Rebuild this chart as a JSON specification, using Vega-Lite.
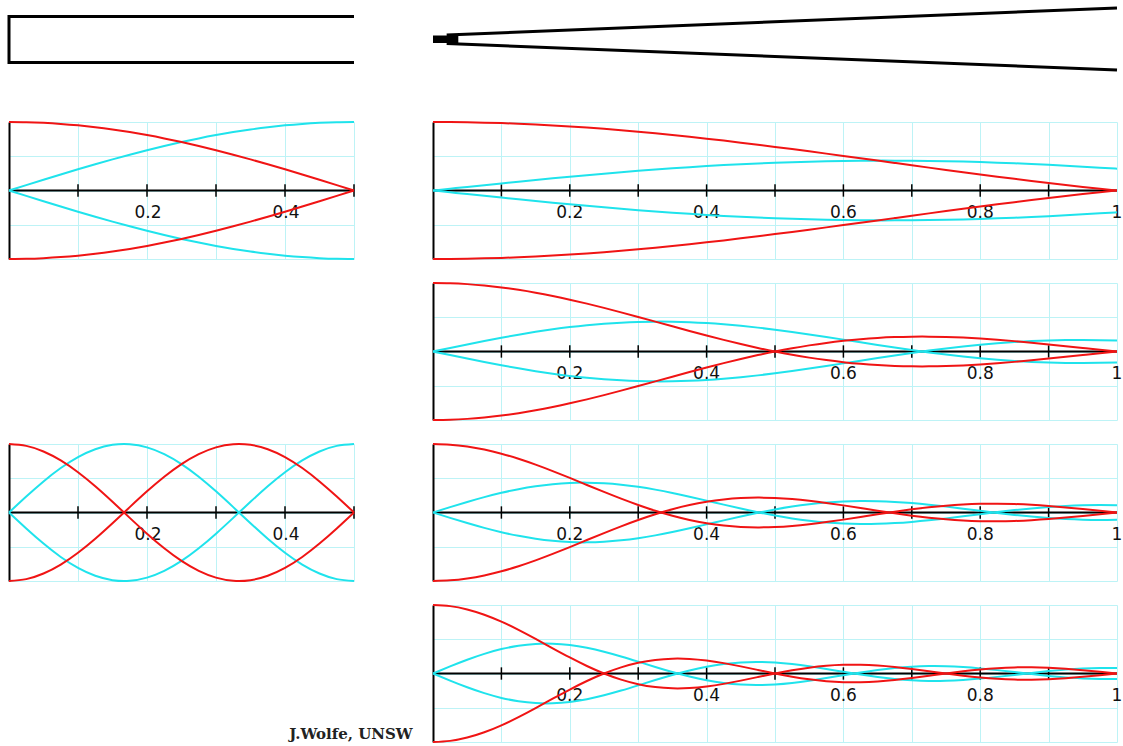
{
"$schema": "https://vega.github.io/schema/vega-lite/v6.json",
"background": "white",
"padding": {"left": 3, "top": 0, "right": 0, "bottom": 0},
"bounds": "flush",
"columns": 2,
"spacing": {"row": 24, "column": 79},
"config": {"view": {"stroke": null}, "line": {"strokeWidth": 2, "interpolate": "natural"}},
"datasets": {
"cyl": [
{"x":0,"p1":1,"u1":0,"p3":1,"u3":0},
{"x":0.025,"p1":0.99692,"u1":0.07846,"p3":0.97237,"u3":0.23345},
{"x":0.05,"p1":0.98769,"u1":0.15643,"p3":0.89101,"u3":0.45399},
{"x":0.075,"p1":0.97237,"u1":0.23345,"p3":0.76041,"u3":0.64945},
{"x":0.1,"p1":0.95106,"u1":0.30902,"p3":0.58779,"u3":0.80902},
{"x":0.125,"p1":0.92388,"u1":0.38268,"p3":0.38268,"u3":0.92388},
{"x":0.15,"p1":0.89101,"u1":0.45399,"p3":0.15643,"u3":0.98769},
{"x":0.175,"p1":0.85264,"u1":0.5225,"p3":-0.07846,"u3":0.99692},
{"x":0.2,"p1":0.80902,"u1":0.58779,"p3":-0.30902,"u3":0.95106},
{"x":0.225,"p1":0.76041,"u1":0.64945,"p3":-0.5225,"u3":0.85264},
{"x":0.25,"p1":0.70711,"u1":0.70711,"p3":-0.70711,"u3":0.70711},
{"x":0.275,"p1":0.64945,"u1":0.76041,"p3":-0.85264,"u3":0.5225},
{"x":0.3,"p1":0.58779,"u1":0.80902,"p3":-0.95106,"u3":0.30902},
{"x":0.325,"p1":0.5225,"u1":0.85264,"p3":-0.99692,"u3":0.07846},
{"x":0.35,"p1":0.45399,"u1":0.89101,"p3":-0.98769,"u3":-0.15643},
{"x":0.375,"p1":0.38268,"u1":0.92388,"p3":-0.92388,"u3":-0.38268},
{"x":0.4,"p1":0.30902,"u1":0.95106,"p3":-0.80902,"u3":-0.58779},
{"x":0.425,"p1":0.23345,"u1":0.97237,"p3":-0.64945,"u3":-0.76041},
{"x":0.45,"p1":0.15643,"u1":0.98769,"p3":-0.45399,"u3":-0.89101},
{"x":0.475,"p1":0.07846,"u1":0.99692,"p3":-0.23345,"u3":-0.97237},
{"x":0.5,"p1":0,"u1":1,"p3":0,"u3":-1}
],
"cone": [
{"x":0,"p1":1,"u1":0,"p2":1,"u2":0,"p3":1,"u3":0,"p4":1,"u4":0},
{"x":0.025,"p1":0.999,"u1":0.0261,"p2":0.9959,"u2":0.0522,"p3":0.9908,"u3":0.0781,"p4":0.9836,"u4":0.1037},
{"x":0.05,"p1":0.9959,"u1":0.0522,"p2":0.9836,"u2":0.1037,"p3":0.9634,"u3":0.1536,"p4":0.9355,"u4":0.2013},
{"x":0.075,"p1":0.9908,"u1":0.0781,"p2":0.9634,"u2":0.1536,"p3":0.9188,"u3":0.2241,"p4":0.8584,"u4":0.2871},
{"x":0.1,"p1":0.9836,"u1":0.1037,"p2":0.9355,"u2":0.2013,"p3":0.8584,"u3":0.2871,"p4":0.7568,"u4":0.3564},
{"x":0.125,"p1":0.9745,"u1":0.1289,"p2":0.9003,"u2":0.246,"p3":0.7842,"u3":0.3408,"p4":0.6366,"u4":0.4053},
{"x":0.15,"p1":0.9634,"u1":0.1536,"p2":0.8584,"u2":0.2871,"p3":0.6987,"u3":0.3835,"p4":0.5046,"u4":0.4316},
{"x":0.175,"p1":0.9504,"u1":0.1778,"p2":0.8103,"u2":0.3241,"p3":0.6044,"u3":0.414,"p4":0.3679,"u4":0.4346},
{"x":0.2,"p1":0.9355,"u1":0.2013,"p2":0.7568,"u2":0.3564,"p3":0.5046,"u3":0.4316,"p4":0.2339,"u4":0.415},
{"x":0.225,"p1":0.9188,"u1":0.2241,"p2":0.6987,"u2":0.3835,"p3":0.4021,"u3":0.436,"p4":0.1093,"u4":0.375},
{"x":0.25,"p1":0.9003,"u1":0.246,"p2":0.6366,"u2":0.4053,"p3":0.3001,"u3":0.4275,"p4":0,"u4":0.3183},
{"x":0.275,"p1":0.8802,"u1":0.267,"p2":0.5716,"u2":0.4214,"p3":0.2016,"u3":0.4068,"p4":-0.0894,"u4":0.2493},
{"x":0.3,"p1":0.8584,"u1":0.2871,"p2":0.5046,"u2":0.4316,"p3":0.1093,"u3":0.375,"p4":-0.1559,"u4":0.1732},
{"x":0.325,"p1":0.8351,"u1":0.3062,"p2":0.4363,"u2":0.436,"p3":0.0256,"u3":0.3338,"p4":-0.1981,"u4":0.0954},
{"x":0.35,"p1":0.8103,"u1":0.3241,"p2":0.3679,"u2":0.4346,"p3":-0.0474,"u3":0.2851,"p4":-0.2162,"u4":0.0211},
{"x":0.375,"p1":0.7842,"u1":0.3408,"p2":0.3001,"u2":0.4275,"p3":-0.1083,"u3":0.2308,"p4":-0.2122,"u4":-0.045},
{"x":0.4,"p1":0.7568,"u1":0.3564,"p2":0.2339,"u2":0.415,"p3":-0.1559,"u3":0.1732,"p4":-0.1892,"u4":-0.0991},
{"x":0.425,"p1":0.7283,"u1":0.3706,"p2":0.17,"u2":0.3973,"p3":-0.1898,"u3":0.1147,"p4":-0.1515,"u4":-0.1384},
{"x":0.45,"p1":0.6987,"u1":0.3835,"p2":0.1093,"u2":0.375,"p3":-0.2101,"u3":0.0575,"p4":-0.1039,"u4":-0.1615},
{"x":0.475,"p1":0.6681,"u1":0.3951,"p2":0.0524,"u2":0.3485,"p3":-0.2172,"u3":0.0036,"p4":-0.0518,"u4":-0.168},
{"x":0.5,"p1":0.6366,"u1":0.4053,"p2":0,"u2":0.3183,"p3":-0.2122,"u3":-0.045,"p4":0,"u4":-0.1592},
{"x":0.525,"p1":0.6044,"u1":0.414,"p2":-0.0474,"u2":0.2851,"p3":-0.1965,"u3":-0.0869,"p4":0.0468,"u4":-0.1371},
{"x":0.55,"p1":0.5716,"u1":0.4214,"p2":-0.0894,"u2":0.2493,"p3":-0.1719,"u3":-0.1207,"p4":0.0851,"u4":-0.1048},
{"x":0.575,"p1":0.5383,"u1":0.4272,"p2":-0.1257,"u2":0.2118,"p3":-0.1403,"u3":-0.1457,"p4":0.112,"u4":-0.0659},
{"x":0.6,"p1":0.5046,"u1":0.4316,"p2":-0.1559,"u2":0.1732,"p3":-0.1039,"u3":-0.1615,"p4":0.1261,"u4":-0.0243},
{"x":0.625,"p1":0.4705,"u1":0.4345,"p2":-0.1801,"u2":0.1342,"p3":-0.065,"u3":-0.1679,"p4":0.1273,"u4":0.0162},
{"x":0.65,"p1":0.4363,"u1":0.436,"p2":-0.1981,"u2":0.0954,"p3":-0.0255,"u3":-0.1654,"p4":0.1164,"u4":0.0521},
{"x":0.675,"p1":0.4021,"u1":0.436,"p2":-0.2101,"u2":0.0575,"p3":0.0123,"u3":-0.1548,"p4":0.0954,"u4":0.0805},
{"x":0.7,"p1":0.3679,"u1":0.4346,"p2":-0.2162,"u2":0.0211,"p3":0.0468,"u3":-0.1371,"p4":0.0668,"u4":0.0996},
{"x":0.725,"p1":0.3339,"u1":0.4317,"p2":-0.2168,"u2":-0.0133,"p3":0.0765,"u3":-0.1136,"p4":0.0339,"u4":0.1081},
{"x":0.75,"p1":0.3001,"u1":0.4275,"p2":-0.2122,"u2":-0.045,"p3":0.1,"u3":-0.0859,"p4":0,"u4":0.1061},
{"x":0.775,"p1":0.2667,"u1":0.4219,"p2":-0.2028,"u2":-0.0738,"p3":0.1167,"u3":-0.0556,"p4":-0.0317,"u4":0.0944},
{"x":0.8,"p1":0.2339,"u1":0.415,"p2":-0.1892,"u2":-0.0991,"p3":0.1261,"u3":-0.0243,"p4":-0.0585,"u4":0.0747},
{"x":0.825,"p1":0.2016,"u1":0.4068,"p2":-0.1719,"u2":-0.1207,"p3":0.1282,"u3":0.0064,"p4":-0.078,"u4":0.0492},
{"x":0.85,"p1":0.17,"u1":0.3973,"p2":-0.1515,"u2":-0.1384,"p3":0.1233,"u3":0.0349,"p4":-0.089,"u4":0.0206},
{"x":0.875,"p1":0.1392,"u1":0.3867,"p2":-0.1286,"u2":-0.152,"p3":0.112,"u3":0.06,"p4":-0.091,"u4":-0.0083},
{"x":0.9,"p1":0.1093,"u1":0.375,"p2":-0.1039,"u2":-0.1615,"p3":0.0954,"u3":0.0805,"p4":-0.0841,"u4":-0.0348},
{"x":0.925,"p1":0.0803,"u1":0.3623,"p2":-0.0781,"u2":-0.1668,"p3":0.0745,"u3":0.0958,"p4":-0.0696,"u4":-0.0566},
{"x":0.95,"p1":0.0524,"u1":0.3485,"p2":-0.0518,"u2":-0.168,"p3":0.0507,"u3":0.1052,"p4":-0.0492,"u4":-0.0719},
{"x":0.975,"p1":0.0256,"u1":0.3338,"p2":-0.0255,"u2":-0.1654,"p3":0.0254,"u3":0.1086,"p4":-0.0252,"u4":-0.0797},
{"x":1,"p1":0,"u1":0.3183,"p2":0,"u2":-0.1592,"p3":0,"u3":0.1061,"p4":0,"u4":-0.0796}
],
"ticksL": [{"x":0.1},{"x":0.2},{"x":0.3},{"x":0.4},{"x":0.5}],
"ticksR": [{"x":0.1},{"x":0.2},{"x":0.3},{"x":0.4},{"x":0.5},{"x":0.6},{"x":0.7},{"x":0.8},{"x":0.9}],
"labL": [{"x":0.2,"label":"0.2"},{"x":0.4,"label":"0.4"}],
"labR": [{"x":0.2,"label":"0.2"},{"x":0.4,"label":"0.4"},{"x":0.6,"label":"0.6"},{"x":0.8,"label":"0.8"},{"x":1,"label":"1"}],
"cylOutline": [{"i":0,"x":0.5,"r":23},{"i":1,"x":0,"r":23},{"i":2,"x":0,"r":-23},{"i":3,"x":0.5,"r":-23}],
"coneOutline": [{"side":"top","x":0.02,"r":4.5},{"side":"top","x":1,"r":31.5},{"side":"bottom","x":0.02,"r":-4},{"side":"bottom","x":1,"r":-30.5}]
},
"concat": [
  {"width": 345, "height": 98, "data": {"name": "cylOutline"},
   "mark": {"type": "line", "color": "black", "strokeWidth": 3, "interpolate": "linear", "strokeJoin": "miter"},
   "encoding": {
     "x": {"field": "x", "type": "quantitative", "scale": {"domain": [0, 0.5], "nice": false}, "axis": null},
     "y": {"field": "r", "type": "quantitative", "scale": {"domain": [-58.5, 39.5], "nice": false, "zero": false}, "axis": null},
     "order": {"field": "i"}}},
  {"width": 684, "height": 98,
   "layer": [
    {"data": {"values": [{}]}, "mark": {"type": "rect", "color": "black"},
     "encoding": {
       "x": {"datum": 0, "type": "quantitative", "scale": {"domain": [0, 1], "nice": false}, "axis": null},
       "x2": {"datum": 0.037},
       "y": {"datum": -3.5, "type": "quantitative", "scale": {"domain": [-58.5, 39.5], "nice": false, "zero": false}, "axis": null},
       "y2": {"datum": 4}}},
    {"data": {"name": "coneOutline"}, "mark": {"type": "line", "color": "black", "strokeWidth": 3, "interpolate": "linear"},
     "encoding": {
       "x": {"field": "x", "type": "quantitative"},
       "y": {"field": "r", "type": "quantitative"},
       "detail": {"field": "side"}}}
   ]},
  {"width": 345, "height": 137, "resolve": {"scale": {"y": "independent"}},
   "layer": [
    {"data": {"values": [{}]}, "mark": {"type": "rule", "color": "black", "strokeWidth": 2},
     "encoding": {
      "x": {"datum": 0, "type": "quantitative", "scale": {"domain": [0, 0.5], "nice": false}, "axis": {"values": [0,0.05,0.1,0.15,0.2,0.25,0.3,0.35,0.4,0.45,0.5], "grid": true, "gridColor": "#bdf3f6", "gridOpacity": 1, "gridWidth": 1, "domain": false, "ticks": false, "labels": false, "title": null}},
      "x2": {"datum": 0.5},
      "y": {"datum": 0, "type": "quantitative", "scale": {"domain": [-1, 1], "nice": false}, "axis": {"values": [-1,-0.5,0,0.5,1], "grid": true, "gridColor": "#bdf3f6", "gridOpacity": 1, "gridWidth": 1, "domain": true, "domainColor": "black", "domainWidth": 2, "ticks": false, "labels": false, "title": null}}}},
    {"data": {"name": "ticksL"}, "mark": {"type": "rule", "color": "black", "strokeWidth": 1.5},
     "encoding": {"x": {"field": "x", "type": "quantitative"}, "y": {"datum": -0.09, "type": "quantitative", "scale": {"domain": [-1, 1]}, "axis": null}, "y2": {"datum": 0.09}}},
    {"data": {"name": "labL"}, "mark": {"type": "text", "font": "DejaVu Sans", "fontSize": 17, "baseline": "alphabetic", "dy": 27, "dx": 1, "color": "#111111"},
     "encoding": {"x": {"field": "x", "type": "quantitative"}, "y": {"datum": 0, "type": "quantitative", "scale": {"domain": [-1, 1]}, "axis": null}, "text": {"field": "label"}}},
    {"data": {"name": "cyl"}, "mark": {"type": "line", "color": "#1fe3ec"},
     "encoding": {"x": {"field": "x", "type": "quantitative"}, "y": {"field": "u1", "type": "quantitative", "scale": {"domain": [-1, 1]}, "axis": null}}},
    {"data": {"name": "cyl"}, "mark": {"type": "line", "color": "#1fe3ec"},
     "encoding": {"x": {"field": "x", "type": "quantitative"}, "y": {"field": "u1", "type": "quantitative", "scale": {"domain": [-1, 1], "reverse": true}, "axis": null}}},
    {"data": {"name": "cyl"}, "mark": {"type": "line", "color": "#f01414"},
     "encoding": {"x": {"field": "x", "type": "quantitative"}, "y": {"field": "p1", "type": "quantitative", "scale": {"domain": [-1, 1]}, "axis": null}}},
    {"data": {"name": "cyl"}, "mark": {"type": "line", "color": "#f01414"},
     "encoding": {"x": {"field": "x", "type": "quantitative"}, "y": {"field": "p1", "type": "quantitative", "scale": {"domain": [-1, 1], "reverse": true}, "axis": null}}}
   ]},
  {"width": 684, "height": 137, "resolve": {"scale": {"y": "independent"}},
   "layer": [
    {"data": {"values": [{}]}, "mark": {"type": "rule", "color": "black", "strokeWidth": 2},
     "encoding": {
      "x": {"datum": 0, "type": "quantitative", "scale": {"domain": [0, 1], "nice": false}, "axis": {"values": [0,0.05,0.1,0.15,0.2,0.25,0.3,0.35,0.4,0.45,0.5,0.55,0.6,0.65,0.7,0.75,0.8,0.85,0.9,0.95,1], "grid": true, "gridColor": "#bdf3f6", "gridOpacity": 1, "gridWidth": 1, "domain": false, "ticks": false, "labels": false, "title": null}},
      "x2": {"datum": 1},
      "y": {"datum": 0, "type": "quantitative", "scale": {"domain": [-1, 1], "nice": false}, "axis": {"values": [-1,-0.5,0,0.5,1], "grid": true, "gridColor": "#bdf3f6", "gridOpacity": 1, "gridWidth": 1, "domain": true, "domainColor": "black", "domainWidth": 2, "ticks": false, "labels": false, "title": null}}}},
    {"data": {"name": "ticksR"}, "mark": {"type": "rule", "color": "black", "strokeWidth": 1.5},
     "encoding": {"x": {"field": "x", "type": "quantitative"}, "y": {"datum": -0.09, "type": "quantitative", "scale": {"domain": [-1, 1]}, "axis": null}, "y2": {"datum": 0.09}}},
    {"data": {"name": "labR"}, "mark": {"type": "text", "font": "DejaVu Sans", "fontSize": 17, "baseline": "alphabetic", "dy": 27, "dx": 0, "color": "#111111"},
     "encoding": {"x": {"field": "x", "type": "quantitative"}, "y": {"datum": 0, "type": "quantitative", "scale": {"domain": [-1, 1]}, "axis": null}, "text": {"field": "label"}}},
    {"data": {"name": "cone"}, "mark": {"type": "line", "color": "#1fe3ec"},
     "encoding": {"x": {"field": "x", "type": "quantitative"}, "y": {"field": "u1", "type": "quantitative", "scale": {"domain": [-1, 1]}, "axis": null}}},
    {"data": {"name": "cone"}, "mark": {"type": "line", "color": "#1fe3ec"},
     "encoding": {"x": {"field": "x", "type": "quantitative"}, "y": {"field": "u1", "type": "quantitative", "scale": {"domain": [-1, 1], "reverse": true}, "axis": null}}},
    {"data": {"name": "cone"}, "mark": {"type": "line", "color": "#f01414"},
     "encoding": {"x": {"field": "x", "type": "quantitative"}, "y": {"field": "p1", "type": "quantitative", "scale": {"domain": [-1, 1]}, "axis": null}}},
    {"data": {"name": "cone"}, "mark": {"type": "line", "color": "#f01414"},
     "encoding": {"x": {"field": "x", "type": "quantitative"}, "y": {"field": "p1", "type": "quantitative", "scale": {"domain": [-1, 1], "reverse": true}, "axis": null}}}
   ]},
  {"width": 345, "height": 137, "data": {"values": [{"t": ""}]}, "mark": {"type": "text"}, "encoding": {"text": {"field": "t"}}},
  {"width": 684, "height": 137, "resolve": {"scale": {"y": "independent"}},
   "layer": [
    {"data": {"values": [{}]}, "mark": {"type": "rule", "color": "black", "strokeWidth": 2},
     "encoding": {
      "x": {"datum": 0, "type": "quantitative", "scale": {"domain": [0, 1], "nice": false}, "axis": {"values": [0,0.05,0.1,0.15,0.2,0.25,0.3,0.35,0.4,0.45,0.5,0.55,0.6,0.65,0.7,0.75,0.8,0.85,0.9,0.95,1], "grid": true, "gridColor": "#bdf3f6", "gridOpacity": 1, "gridWidth": 1, "domain": false, "ticks": false, "labels": false, "title": null}},
      "x2": {"datum": 1},
      "y": {"datum": 0, "type": "quantitative", "scale": {"domain": [-1, 1], "nice": false}, "axis": {"values": [-1,-0.5,0,0.5,1], "grid": true, "gridColor": "#bdf3f6", "gridOpacity": 1, "gridWidth": 1, "domain": true, "domainColor": "black", "domainWidth": 2, "ticks": false, "labels": false, "title": null}}}},
    {"data": {"name": "ticksR"}, "mark": {"type": "rule", "color": "black", "strokeWidth": 1.5},
     "encoding": {"x": {"field": "x", "type": "quantitative"}, "y": {"datum": -0.09, "type": "quantitative", "scale": {"domain": [-1, 1]}, "axis": null}, "y2": {"datum": 0.09}}},
    {"data": {"name": "labR"}, "mark": {"type": "text", "font": "DejaVu Sans", "fontSize": 17, "baseline": "alphabetic", "dy": 27, "dx": 0, "color": "#111111"},
     "encoding": {"x": {"field": "x", "type": "quantitative"}, "y": {"datum": 0, "type": "quantitative", "scale": {"domain": [-1, 1]}, "axis": null}, "text": {"field": "label"}}},
    {"data": {"name": "cone"}, "mark": {"type": "line", "color": "#1fe3ec"},
     "encoding": {"x": {"field": "x", "type": "quantitative"}, "y": {"field": "u2", "type": "quantitative", "scale": {"domain": [-1, 1]}, "axis": null}}},
    {"data": {"name": "cone"}, "mark": {"type": "line", "color": "#1fe3ec"},
     "encoding": {"x": {"field": "x", "type": "quantitative"}, "y": {"field": "u2", "type": "quantitative", "scale": {"domain": [-1, 1], "reverse": true}, "axis": null}}},
    {"data": {"name": "cone"}, "mark": {"type": "line", "color": "#f01414"},
     "encoding": {"x": {"field": "x", "type": "quantitative"}, "y": {"field": "p2", "type": "quantitative", "scale": {"domain": [-1, 1]}, "axis": null}}},
    {"data": {"name": "cone"}, "mark": {"type": "line", "color": "#f01414"},
     "encoding": {"x": {"field": "x", "type": "quantitative"}, "y": {"field": "p2", "type": "quantitative", "scale": {"domain": [-1, 1], "reverse": true}, "axis": null}}}
   ]},
  {"width": 345, "height": 137, "resolve": {"scale": {"y": "independent"}},
   "layer": [
    {"data": {"values": [{}]}, "mark": {"type": "rule", "color": "black", "strokeWidth": 2},
     "encoding": {
      "x": {"datum": 0, "type": "quantitative", "scale": {"domain": [0, 0.5], "nice": false}, "axis": {"values": [0,0.05,0.1,0.15,0.2,0.25,0.3,0.35,0.4,0.45,0.5], "grid": true, "gridColor": "#bdf3f6", "gridOpacity": 1, "gridWidth": 1, "domain": false, "ticks": false, "labels": false, "title": null}},
      "x2": {"datum": 0.5},
      "y": {"datum": 0, "type": "quantitative", "scale": {"domain": [-1, 1], "nice": false}, "axis": {"values": [-1,-0.5,0,0.5,1], "grid": true, "gridColor": "#bdf3f6", "gridOpacity": 1, "gridWidth": 1, "domain": true, "domainColor": "black", "domainWidth": 2, "ticks": false, "labels": false, "title": null}}}},
    {"data": {"name": "ticksL"}, "mark": {"type": "rule", "color": "black", "strokeWidth": 1.5},
     "encoding": {"x": {"field": "x", "type": "quantitative"}, "y": {"datum": -0.09, "type": "quantitative", "scale": {"domain": [-1, 1]}, "axis": null}, "y2": {"datum": 0.09}}},
    {"data": {"name": "labL"}, "mark": {"type": "text", "font": "DejaVu Sans", "fontSize": 17, "baseline": "alphabetic", "dy": 27, "dx": 1, "color": "#111111"},
     "encoding": {"x": {"field": "x", "type": "quantitative"}, "y": {"datum": 0, "type": "quantitative", "scale": {"domain": [-1, 1]}, "axis": null}, "text": {"field": "label"}}},
    {"data": {"name": "cyl"}, "mark": {"type": "line", "color": "#1fe3ec"},
     "encoding": {"x": {"field": "x", "type": "quantitative"}, "y": {"field": "u3", "type": "quantitative", "scale": {"domain": [-1, 1]}, "axis": null}}},
    {"data": {"name": "cyl"}, "mark": {"type": "line", "color": "#1fe3ec"},
     "encoding": {"x": {"field": "x", "type": "quantitative"}, "y": {"field": "u3", "type": "quantitative", "scale": {"domain": [-1, 1], "reverse": true}, "axis": null}}},
    {"data": {"name": "cyl"}, "mark": {"type": "line", "color": "#f01414"},
     "encoding": {"x": {"field": "x", "type": "quantitative"}, "y": {"field": "p3", "type": "quantitative", "scale": {"domain": [-1, 1]}, "axis": null}}},
    {"data": {"name": "cyl"}, "mark": {"type": "line", "color": "#f01414"},
     "encoding": {"x": {"field": "x", "type": "quantitative"}, "y": {"field": "p3", "type": "quantitative", "scale": {"domain": [-1, 1], "reverse": true}, "axis": null}}}
   ]},
  {"width": 684, "height": 137, "resolve": {"scale": {"y": "independent"}},
   "layer": [
    {"data": {"values": [{}]}, "mark": {"type": "rule", "color": "black", "strokeWidth": 2},
     "encoding": {
      "x": {"datum": 0, "type": "quantitative", "scale": {"domain": [0, 1], "nice": false}, "axis": {"values": [0,0.05,0.1,0.15,0.2,0.25,0.3,0.35,0.4,0.45,0.5,0.55,0.6,0.65,0.7,0.75,0.8,0.85,0.9,0.95,1], "grid": true, "gridColor": "#bdf3f6", "gridOpacity": 1, "gridWidth": 1, "domain": false, "ticks": false, "labels": false, "title": null}},
      "x2": {"datum": 1},
      "y": {"datum": 0, "type": "quantitative", "scale": {"domain": [-1, 1], "nice": false}, "axis": {"values": [-1,-0.5,0,0.5,1], "grid": true, "gridColor": "#bdf3f6", "gridOpacity": 1, "gridWidth": 1, "domain": true, "domainColor": "black", "domainWidth": 2, "ticks": false, "labels": false, "title": null}}}},
    {"data": {"name": "ticksR"}, "mark": {"type": "rule", "color": "black", "strokeWidth": 1.5},
     "encoding": {"x": {"field": "x", "type": "quantitative"}, "y": {"datum": -0.09, "type": "quantitative", "scale": {"domain": [-1, 1]}, "axis": null}, "y2": {"datum": 0.09}}},
    {"data": {"name": "labR"}, "mark": {"type": "text", "font": "DejaVu Sans", "fontSize": 17, "baseline": "alphabetic", "dy": 27, "dx": 0, "color": "#111111"},
     "encoding": {"x": {"field": "x", "type": "quantitative"}, "y": {"datum": 0, "type": "quantitative", "scale": {"domain": [-1, 1]}, "axis": null}, "text": {"field": "label"}}},
    {"data": {"name": "cone"}, "mark": {"type": "line", "color": "#1fe3ec"},
     "encoding": {"x": {"field": "x", "type": "quantitative"}, "y": {"field": "u3", "type": "quantitative", "scale": {"domain": [-1, 1]}, "axis": null}}},
    {"data": {"name": "cone"}, "mark": {"type": "line", "color": "#1fe3ec"},
     "encoding": {"x": {"field": "x", "type": "quantitative"}, "y": {"field": "u3", "type": "quantitative", "scale": {"domain": [-1, 1], "reverse": true}, "axis": null}}},
    {"data": {"name": "cone"}, "mark": {"type": "line", "color": "#f01414"},
     "encoding": {"x": {"field": "x", "type": "quantitative"}, "y": {"field": "p3", "type": "quantitative", "scale": {"domain": [-1, 1]}, "axis": null}}},
    {"data": {"name": "cone"}, "mark": {"type": "line", "color": "#f01414"},
     "encoding": {"x": {"field": "x", "type": "quantitative"}, "y": {"field": "p3", "type": "quantitative", "scale": {"domain": [-1, 1], "reverse": true}, "axis": null}}}
   ]},
  {"width": 345, "height": 137, "data": {"values": [{"t": "J.Wolfe, UNSW"}]},
   "mark": {"type": "text", "font": "DejaVu Serif", "fontWeight": "bold", "fontSize": 15, "align": "right", "baseline": "bottom", "color": "#222222"},
   "encoding": {
     "x": {"datum": 0.585, "type": "quantitative", "scale": {"domain": [0, 0.5], "nice": false}, "axis": null},
     "y": {"datum": -1, "type": "quantitative", "scale": {"domain": [-1, 1], "nice": false}, "axis": null},
     "text": {"field": "t"}}},
  {"width": 684, "height": 137, "resolve": {"scale": {"y": "independent"}},
   "layer": [
    {"data": {"values": [{}]}, "mark": {"type": "rule", "color": "black", "strokeWidth": 2},
     "encoding": {
      "x": {"datum": 0, "type": "quantitative", "scale": {"domain": [0, 1], "nice": false}, "axis": {"values": [0,0.05,0.1,0.15,0.2,0.25,0.3,0.35,0.4,0.45,0.5,0.55,0.6,0.65,0.7,0.75,0.8,0.85,0.9,0.95,1], "grid": true, "gridColor": "#bdf3f6", "gridOpacity": 1, "gridWidth": 1, "domain": false, "ticks": false, "labels": false, "title": null}},
      "x2": {"datum": 1},
      "y": {"datum": 0, "type": "quantitative", "scale": {"domain": [-1, 1], "nice": false}, "axis": {"values": [-1,-0.5,0,0.5,1], "grid": true, "gridColor": "#bdf3f6", "gridOpacity": 1, "gridWidth": 1, "domain": true, "domainColor": "black", "domainWidth": 2, "ticks": false, "labels": false, "title": null}}}},
    {"data": {"name": "ticksR"}, "mark": {"type": "rule", "color": "black", "strokeWidth": 1.5},
     "encoding": {"x": {"field": "x", "type": "quantitative"}, "y": {"datum": -0.09, "type": "quantitative", "scale": {"domain": [-1, 1]}, "axis": null}, "y2": {"datum": 0.09}}},
    {"data": {"name": "labR"}, "mark": {"type": "text", "font": "DejaVu Sans", "fontSize": 17, "baseline": "alphabetic", "dy": 27, "dx": 0, "color": "#111111"},
     "encoding": {"x": {"field": "x", "type": "quantitative"}, "y": {"datum": 0, "type": "quantitative", "scale": {"domain": [-1, 1]}, "axis": null}, "text": {"field": "label"}}},
    {"data": {"name": "cone"}, "mark": {"type": "line", "color": "#1fe3ec"},
     "encoding": {"x": {"field": "x", "type": "quantitative"}, "y": {"field": "u4", "type": "quantitative", "scale": {"domain": [-1, 1]}, "axis": null}}},
    {"data": {"name": "cone"}, "mark": {"type": "line", "color": "#1fe3ec"},
     "encoding": {"x": {"field": "x", "type": "quantitative"}, "y": {"field": "u4", "type": "quantitative", "scale": {"domain": [-1, 1], "reverse": true}, "axis": null}}},
    {"data": {"name": "cone"}, "mark": {"type": "line", "color": "#f01414"},
     "encoding": {"x": {"field": "x", "type": "quantitative"}, "y": {"field": "p4", "type": "quantitative", "scale": {"domain": [-1, 1]}, "axis": null}}},
    {"data": {"name": "cone"}, "mark": {"type": "line", "color": "#f01414"},
     "encoding": {"x": {"field": "x", "type": "quantitative"}, "y": {"field": "p4", "type": "quantitative", "scale": {"domain": [-1, 1], "reverse": true}, "axis": null}}}
   ]}
]
}
